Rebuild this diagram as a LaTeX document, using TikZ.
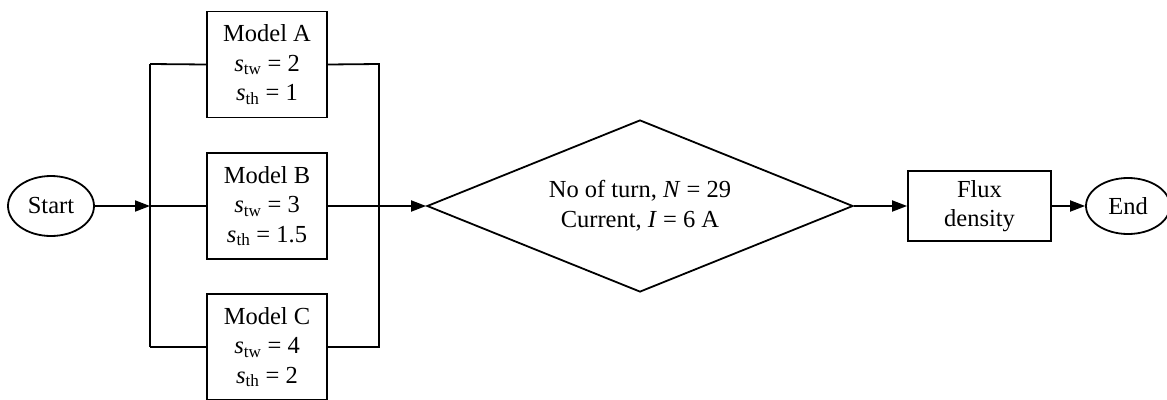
\documentclass[tikz,border=0pt]{standalone}
\usepackage{fontspec}
\setmainfont{Liberation Serif}
\usetikzlibrary{shapes.geometric,arrows.meta}
\begin{document}
\begin{tikzpicture}[x=1pt,y=-1pt,
 every node/.style={font=\fontsize{24.5}{29.5}\selectfont, align=center, inner sep=0pt},
 line/.style={line width=1.8pt},
 arr/.style={line width=1.8pt, -{Triangle[length=15pt,width=11pt]}},
 model/.style={draw, line width=1.8pt, minimum width=120pt, minimum height=106pt},
 term/.style={draw, ellipse, line width=1.8pt},
 decision/.style={draw, diamond, line width=1.8pt, aspect=2.48, minimum width=426pt, minimum height=172pt},
 proc/.style={draw, line width=1.8pt, minimum width=143pt, minimum height=70pt}
]
\useasboundingbox (0,0) rectangle (1167,399);
\node[term, minimum width=86pt, minimum height=60pt] (start) at (51,206) {Start};
\node[model] (A) at (267,64.5) {Model A\\ \textit{s}\textsubscript{tw} = 2\\ \textit{s}\textsubscript{th} = 1};
\node[model] (B) at (267,206) {Model B\\ \textit{s}\textsubscript{tw} = 3\\ \textit{s}\textsubscript{th} = 1.5};
\node[model] (C) at (267,347) {Model C\\ \textit{s}\textsubscript{tw} = 4\\ \textit{s}\textsubscript{th} = 2};
\node[decision] (dia) at (640,206) {No of turn, \textit{N} = 29\\ Current, \textit{I} = 6 A};
\node[proc] (flux) at (979.5,206) {Flux\\ density};
\node[term, minimum width=84pt, minimum height=56pt] (end) at (1128,206) {End};
\coordinate (lt) at (150,64);
\coordinate (lm) at (150,206);
\coordinate (lb) at (150,347);
\coordinate (rt) at (379,64);
\coordinate (rb) at (379,347);
\draw[arr] (start) -- (lm);
\draw[line] (lt) -- (lb);
\draw[line] (lt) -- (A.west);
\draw[line] (lm) -- (B.west);
\draw[line] (lb) -- (C.west);
\draw[line] (A.east) -- (rt) -- (rb) -- (C.east);
\draw[arr] (B.east) -- (dia.west);
\draw[arr] (dia.east) -- (flux.west);
\draw[arr] (flux.east) -- (end.west);
\end{tikzpicture}
\end{document}
